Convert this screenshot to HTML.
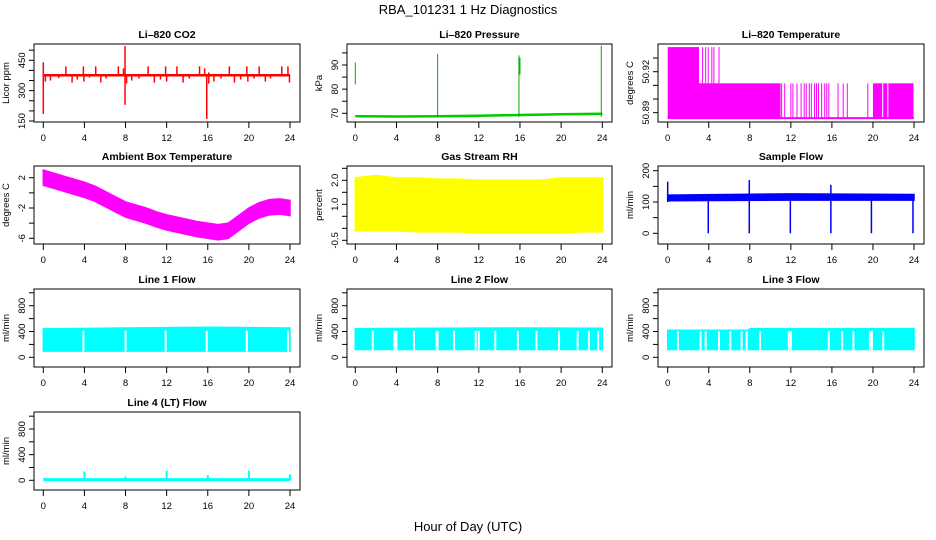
<!DOCTYPE html>
<html><head><meta charset="utf-8">
<style>
html,body{margin:0;padding:0;background:#fff;}
svg{display:block;font-family:"Liberation Sans",sans-serif;}
</style></head>
<body>
<svg id="chart" width="936" height="540" viewBox="0 0 936 540" xmlns="http://www.w3.org/2000/svg">
<text x="468" y="14" text-anchor="middle" font-size="13">RBA_101231  1 Hz Diagnostics</text>
<text x="468" y="531" text-anchor="middle" font-size="13">Hour of Day (UTC)</text>
</svg>
<script>
// ---- data ----
const xTicks = [0,4,8,12,16,20,24];
// CO2
const co2Base = 376;
const co2Spikes = [[0,185,440],[0.2,345,376],[0.7,350,376],[1.5,362,376],[2.2,376,420],[2.8,340,376],[3.3,355,376],[3.9,376,420],[3.95,345,376],[4.5,365,376],[5.1,376,420],[5.6,340,376],[6.1,360,376],[7.3,376,420],[7.8,376,410],[7.95,230,520],[8.1,335,376],[8.6,350,376],[9.3,360,376],[10.2,376,420],[10.8,340,376],[11.4,355,376],[11.9,376,420],[12.0,345,376],[13.0,376,420],[13.6,340,376],[14.2,360,376],[15.2,376,420],[15.7,376,410],[15.9,160,376],[16.1,335,390],[16.6,345,376],[17.3,360,376],[18.1,376,420],[18.6,340,376],[19.2,355,376],[19.8,376,420],[19.9,345,376],[20.5,360,376],[21.0,376,420],[21.6,345,376],[22.1,360,376],[23.2,376,420],[23.8,376,420],[23.95,340,376]];
// pressure
const presHours = [0,4,8,12,16,20,24];
const presBase = [68.8,68.7,68.8,69.0,69.3,69.6,69.8];
const presSpikes = [[0,82,91],[8,68.5,94.5],[15.9,68.5,94],[16.0,86,93],[23.9,68.5,98]];
// Li-820 temperature
const tempBands = [[0,3.05,50.938],[3.05,11.0,50.9115],[20.0,20.9,50.9115],[21.0,21.4,50.9115],[21.5,23.95,50.9115]];
const tempHiLines = [3.4,3.7,3.95,4.3,4.5,5.0];
const tempMidLines = [11.1,11.4,12.0,12.2,12.6,13.0,13.3,13.5,13.8,14.0,14.3,14.5,14.7,15.0,15.3,15.5,15.7,16.6,17.1,17.5,19.5];
const tempLow = 50.886;
// ambient
const ambHours = [0,1,2,3,4,5,6,7,8,9,10,11,12,13,14,15,16,17,18,19,20,21,22,23,24];
const ambTop = [3.0,2.6,2.2,1.8,1.4,0.9,0.2,-0.5,-1.2,-1.6,-2.0,-2.5,-2.9,-3.2,-3.5,-3.8,-4.0,-4.2,-4.0,-3.0,-2.0,-1.3,-0.9,-0.8,-1.0];
const ambBot = [1.0,0.6,0.2,-0.2,-0.6,-1.1,-1.8,-2.5,-3.2,-3.6,-4.0,-4.5,-4.9,-5.2,-5.5,-5.8,-6.0,-6.2,-6.0,-5.0,-4.0,-3.3,-2.9,-2.8,-3.0];
// RH
const rhHours = [0,2,4,6,8,10,12,14,16,18,20,22,24];
const rhTop = [2.1,2.2,2.1,2.1,2.05,2.05,2.0,2.0,2.0,2.0,2.1,2.1,2.1];
const rhBot = [-0.1,-0.1,-0.1,-0.15,-0.15,-0.15,-0.2,-0.2,-0.2,-0.2,-0.2,-0.15,-0.15];
// sample flow
const sfHours = [0,12,24];
const sfTop = [122,126,124];
const sfBot = [104,106,106];
const sfSpikes = [[0,100,165],[3.95,0,110],[7.95,0,170],[11.95,0,120],[15.9,0,155],[19.85,0,120],[23.9,0,115]];
// line flows
const l1Top = [[0,440],[8,455],[16,465],[24,455]];
const l1Bot = 95;
const l1Gaps = [3.9,8.0,11.9,15.9,19.8,23.8];
const l2Top = [[0,445],[8,450],[16,455],[24,450]];
const l2Bot = 120;
const l2Gaps = [1.7,3.8,4.0,5.7,7.9,8.0,9.6,11.7,12.0,13.6,15.8,17.6,19.8,21.6,22.7,23.6];
const l3Top = [[0,420],[7.9,420],[8.0,445],[24,445]];
const l3Bot = 120;
const l3Gaps = [1.0,3.2,3.7,5.0,6.1,7.2,7.7,9.0,11.8,12.0,15.7,17.0,18.1,19.7,19.9,21.0];
const l4Base = 10;
const l4Spikes = [[4,0,140],[8,0,60],[12,0,150],[16,-10,80],[20,0,150],[24,0,90]];

// ---- layout ----
const NS = "http://www.w3.org/2000/svg";
const svg = document.getElementById('chart');
const cols = [{l:34,r:300,x0:43.3,x24:290},{l:347,r:612,x0:355.3,x24:602.3},{l:658,r:924,x0:667.7,x24:914}];
const rows = [{t:44,b:122},{t:166,b:244},{t:289,b:367},{t:412,b:490}];
function el(tag, attrs, parent){const e=document.createElementNS(NS,tag);for(const k in attrs)e.setAttribute(k,attrs[k]);(parent||svg).appendChild(e);return e;}
function fmt(v){return (Math.abs(v)<1e-9?0:v).toString();}

function panel(name, c, r, title, ylab, cal, yt, yl, labFmt){
  const C=cols[c], R=rows[r];
  const g=el('g',{});
  
  
  const sx=t=>C.x0+(t/24)*(C.x24-C.x0);
  const k=(cal[3]-cal[1])/(cal[2]-cal[0]);
  const sy=v=>cal[1]+(v-cal[0])*k;
  const cl=el('clipPath',{id:'clip-'+name},g);
  el('rect',{x:C.l,y:R.t,width:C.r-C.l,height:R.b-R.t},cl);
  const plot=el('g',{'clip-path':'url(#clip-'+name+')'},g);
  
  
  const box=el('rect',{x:C.l,y:R.t,width:C.r-C.l,height:R.b-R.t,fill:'none',stroke:'#000','stroke-width':1},g);
  
  
  const tt=el('text',{x:(C.l+C.r)/2,y:R.t-6,'text-anchor':'middle','font-size':10.5,'font-weight':'bold'},g);
  tt.textContent=title;
  
  
  const xa=el('g',{},g);
  
  
  el('line',{x1:sx(0),x2:sx(24),y1:R.b,y2:R.b,stroke:'#000'},xa);
  xTicks.forEach(t=>{
    el('line',{x1:sx(t),x2:sx(t),y1:R.b,y2:R.b+6,stroke:'#000'},xa);
    const tx=el('text',{x:sx(t),y:R.b+19,'text-anchor':'middle','font-size':9.5},xa);
    tx.textContent=t;
    
    
  });
  const ya=el('g',{},g);
  
  
  el('line',{x1:C.l,x2:C.l,y1:sy(yt[0]),y2:sy(yt[yt.length-1]),stroke:'#000'},ya);
  yt.forEach(v=>el('line',{x1:C.l-5,x2:C.l,y1:sy(v),y2:sy(v),stroke:'#000'},ya));
  yl.forEach(v=>{
    const x=C.l-9, y=sy(v);
    const tx=el('text',{x:x,y:y,'text-anchor':'middle','font-size':9.5,transform:`rotate(-90 ${x} ${y})`},ya);
    tx.textContent=labFmt?labFmt(v):fmt(v);
    
    
  });
  const yx=C.l-25, yy=(R.t+R.b)/2;
  const yti=el('text',{x:yx,y:yy,'text-anchor':'middle','font-size':9.5,transform:`rotate(-90 ${yx} ${yy})`},g);
  yti.textContent=ylab;
  
  
  return {sx,sy,plot};
}
function vline(p,t,a,b,color,w){el('line',{x1:p.sx(t),x2:p.sx(t),y1:p.sy(a),y2:p.sy(b),stroke:color,'stroke-width':w||1},p.plot);}
function band(p,xs,top,bot,color){
  let d='M'+xs.map((x,i)=>p.sx(x)+','+p.sy(top[i])).join('L');
  for(let i=xs.length-1;i>=0;i--) d+='L'+p.sx(xs[i])+','+p.sy(bot[i]);
  el('path',{d:d+'Z',fill:color,stroke:color,'stroke-width':1.5},p.plot);
}
function pline(p,xs,ys,color,w){el('polyline',{points:xs.map((x,i)=>p.sx(x)+','+p.sy(ys[i])).join(' '),fill:'none',stroke:color,'stroke-width':w},p.plot);}

// CO2
let p=panel('co2',0,0,'Li\u2013820 CO2','Licor ppm',[450,60.3,150,121],[150,200,250,300,350,400,450,500],[150,300,450]);
pline(p,[0,24],[co2Base,co2Base],'#f00',2.5);
co2Spikes.forEach(s=>vline(p,s[0],s[1],s[2],'#f00',1.5));
// pressure
p=panel('pressure',1,0,'Li\u2013820 Pressure','kPa',[90,65,70,113.3],[70,75,80,85,90,95],[70,80,90]);
pline(p,presHours,presBase,'#0c0',2.5);
presSpikes.forEach(s=>vline(p,s[0],s[1],s[2],'#0a0',1));
// Li temp
p=panel('li820-temp',2,0,'Li\u2013820 Temperature','degrees C',[50.92,71.7,50.89,112.7],[50.89,50.90,50.91,50.92,50.93],[50.89,50.92],v=>v.toFixed(2));
tempBands.forEach(b=>{el('rect',{x:p.sx(b[0]),y:p.sy(b[2]),width:p.sx(b[1])-p.sx(b[0]),height:p.sy(tempLow)-p.sy(b[2]),fill:'#f0f'},p.plot);});
pline(p,[0,24],[tempLow,tempLow],'#f0f',2);
tempHiLines.forEach(t=>vline(p,t,tempLow,50.938,'#f0f',1));
tempMidLines.forEach(t=>vline(p,t,tempLow,50.9115,'#f0f',1));
// ambient
p=panel('ambient-temp',0,1,'Ambient Box Temperature','degrees C',[2,177.7,-6,238.3],[-6,-4,-2,0,2],[-6,-2,2]);
band(p,ambHours,ambTop,ambBot,'#f0f');
// RH
p=panel('gas-rh',1,1,'Gas Stream RH','percent',[2,180.3,-0.5,240.3],[-0.5,0,0.5,1,1.5,2,2.5],[-0.5,1.0,2.0],v=>v.toFixed(1));
band(p,rhHours,rhTop,rhBot,'#ff0');
// sample flow
p=panel('sample-flow',2,1,'Sample Flow','ml/min',[200,170.7,0,233.3],[0,50,100,150,200],[0,100,200]);
band(p,sfHours,sfTop,sfBot,'#00f');
sfSpikes.forEach(s=>vline(p,s[0],s[1],s[2],'#00f',1.5));
// line flows
function flow(name,c,r,title,top,bot,gaps,cal){
  const q=panel(name,c,r,title,'ml/min',cal,[0,200,400,600,800,1000],[0,400,800]);
  band(q,top.map(a=>a[0]),top.map(a=>a[1]),top.map(()=>bot),'#0ff');
  gaps.forEach(t=>vline(q,t,bot-5,top[top.length-1][1]-40,'#fff',2));
  return q;
}
flow('line1-flow',0,2,'Line 1 Flow',l1Top,l1Bot,l1Gaps,[800,305.7,0,357.3]);
flow('line2-flow',1,2,'Line 2 Flow',l2Top,l2Bot,l2Gaps,[800,305.7,0,357.3]);
flow('line3-flow',2,2,'Line 3 Flow',l3Top,l3Bot,l3Gaps,[800,305.7,0,357.3]);
p=panel('line4-flow',0,3,'Line 4 (LT) Flow','ml/min',[800,429,0,480.3],[0,200,400,600,800,1000],[0,400,800]);
pline(p,[0,24],[l4Base,l4Base],'#0ff',3);
l4Spikes.forEach(s=>vline(p,s[0],s[1],s[2],'#0ff',2));
</script>
</body></html>
